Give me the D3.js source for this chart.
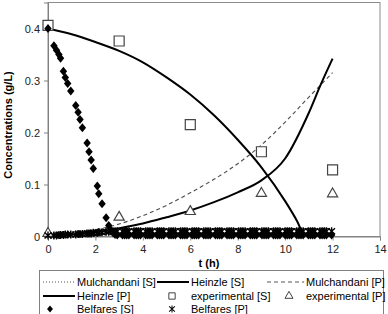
<!DOCTYPE html>
<html>
<head>
<meta charset="utf-8">
<script src="https://cdn.jsdelivr.net/npm/d3@7"></script>
<style>
  body { margin: 0; background: #fff; }
  svg { display: block; font-family: "Liberation Sans", Arial, sans-serif; }
</style>
</head>
<body>
<svg id="chart" width="388" height="314"></svg>
<script>
// model curves (t in h, concentration in g/L)
var heinzleS_t = [0, 1, 2, 3, 4, 5, 6, 7, 8, 9, 10, 10.5, 10.8, 11, 12];
var heinzleS_v = [0.400, 0.389, 0.374, 0.357, 0.335, 0.306, 0.273, 0.233, 0.186, 0.133, 0.068, 0.030, 0.004, 0.002, 0.002];
var heinzleP_t = [0, 1, 2, 3, 4, 5, 6, 7, 8, 9, 10, 11, 11.5, 12];
var heinzleP_v = [0.002, 0.004, 0.008, 0.016, 0.025, 0.037, 0.050, 0.066, 0.085, 0.108, 0.150, 0.238, 0.292, 0.342];
var mulchP_t = [0, 1, 2, 3, 4, 5, 6, 7, 8, 9, 10, 11, 12];
var mulchP_v = [0.002, 0.006, 0.013, 0.024, 0.040, 0.060, 0.084, 0.110, 0.140, 0.176, 0.220, 0.268, 0.315];
var mulchS_t = [0, 2, 4, 6, 8, 10, 12];
var mulchS_v = [0.004, 0.004, 0.004, 0.004, 0.004, 0.004, 0.004];

// experimental points
var expT = [0, 3, 6, 9, 12];
var expS = [0.406, 0.376, 0.215, 0.163, 0.128];
var expP = [0.006, 0.037, 0.048, 0.083, 0.082];

// Belfares model points
var belfT = [0, 0.25, 0.36, 0.46, 0.53, 0.65, 0.73, 0.83, 0.96, 1.17, 1.27, 1.35, 1.45, 1.65, 1.73, 1.82, 1.91, 2.08, 2.14, 2.28, 2.45, 2.56,
  2.65, 2.74, 2.83, 2.92, 3.14, 3.23, 3.32, 3.41, 3.63, 3.72, 3.81, 3.90, 4.12, 4.21, 4.30, 4.39,
  4.61, 4.70, 4.79, 4.88, 5.10, 5.19, 5.28, 5.37, 5.59, 5.68, 5.77, 5.86, 6.08, 6.17, 6.26, 6.35,
  6.57, 6.66, 6.75, 6.84, 7.06, 7.15, 7.24, 7.33, 7.55, 7.64, 7.73, 7.82, 8.04, 8.13, 8.22, 8.31,
  8.53, 8.62, 8.71, 8.80, 9.02, 9.11, 9.20, 9.29, 9.51, 9.60, 9.69, 9.78, 10.00, 10.09, 10.18, 10.27,
  10.49, 10.58, 10.67, 10.76, 10.98, 11.07, 11.16, 11.25, 11.47, 11.56, 11.65, 11.74, 11.96];
var belfS = [0.400, 0.367, 0.358, 0.350, 0.343, 0.318, 0.306, 0.294, 0.280, 0.252, 0.239, 0.225, 0.209, 0.180, 0.163, 0.147, 0.131, 0.097, 0.082, 0.063, 0.036, 0.021,
  0.012, 0.007, 0.004, 0.003, 0.003, 0.003, 0.003, 0.003, 0.003, 0.003, 0.003, 0.003, 0.003, 0.003, 0.003, 0.003,
  0.003, 0.003, 0.003, 0.003, 0.003, 0.003, 0.003, 0.003, 0.003, 0.003, 0.003, 0.003, 0.003, 0.003, 0.003, 0.003,
  0.003, 0.003, 0.003, 0.003, 0.003, 0.003, 0.003, 0.003, 0.003, 0.003, 0.003, 0.003, 0.003, 0.003, 0.003, 0.003,
  0.003, 0.003, 0.003, 0.003, 0.003, 0.003, 0.003, 0.003, 0.003, 0.003, 0.003, 0.003, 0.003, 0.003, 0.003, 0.003,
  0.003, 0.003, 0.003, 0.003, 0.003, 0.003, 0.003, 0.003, 0.003, 0.003, 0.003, 0.003, 0.003];
var belfP = [0.002, 0.002, 0.002, 0.003, 0.003, 0.003, 0.004, 0.004, 0.004, 0.004, 0.005, 0.005, 0.005, 0.006, 0.006, 0.006, 0.007, 0.007, 0.008, 0.008, 0.009, 0.009,
  0.010, 0.010, 0.010, 0.010, 0.010, 0.010, 0.010, 0.010, 0.010, 0.010, 0.010, 0.010, 0.010, 0.010, 0.010, 0.010,
  0.010, 0.010, 0.010, 0.010, 0.010, 0.010, 0.010, 0.010, 0.010, 0.010, 0.010, 0.010, 0.010, 0.010, 0.010, 0.010,
  0.010, 0.010, 0.010, 0.010, 0.010, 0.010, 0.010, 0.010, 0.010, 0.010, 0.010, 0.010, 0.010, 0.010, 0.010, 0.010,
  0.010, 0.010, 0.010, 0.010, 0.010, 0.010, 0.010, 0.010, 0.010, 0.010, 0.010, 0.010, 0.010, 0.010, 0.010, 0.010,
  0.010, 0.010, 0.010, 0.010, 0.010, 0.010, 0.010, 0.010, 0.010, 0.010, 0.010, 0.010, 0.010];

var xTicks = [0, 2, 4, 6, 8, 10, 12, 14];
var yTicks = [0, 0.1, 0.2, 0.3, 0.4];
var xTitle = "t (h)";
var yTitle = "Concentrations (g/L)";
var legendRows = [
  [{type: "dotted", label: "Mulchandani [S]"}, {type: "solid", label: "Heinzle [S]"}, {type: "dashed", label: "Mulchandani [P]"}],
  [{type: "solid", label: "Heinzle [P]"}, {type: "square", label: "experimental [S]"}, {type: "triangle", label: "experimental [P]"}],
  [{type: "diamond", label: "Belfares [S]"}, {type: "star", label: "Belfares [P]"}]
];

var margin = {top: 2.5, right: 8, bottom: 77.5, left: 48},
    width = 388 - margin.left - margin.right,
    height = 314 - margin.top - margin.bottom;

function pairs(ts, vs) {
  return ts.map((t, i) => ({t: t, v: vs[i]}));
}

document.addEventListener('DOMContentLoaded', function () {
  drawChart();
});

var diamondPath = "M0,-4.5L3.7,0L0,4.5L-3.7,0Z";
var starPath = "M0,-4V4M-3.4,-3L3.4,3M3.4,-3L-3.4,3";

function drawChart() {
  var svg = d3.select("#chart");

  var x = d3.scaleLinear().domain([0, 14]).range([0, width]);
  var y = d3.scaleLinear().domain([0, 0.45]).range([height, 0]);

  var g = svg.append("g")
    .attr("transform", "translate(" + margin.left + "," + margin.top + ")");

  // plot border
  g.append("rect")
    .attr("x", 0).attr("y", 0)
    .attr("width", width).attr("height", height)
    .attr("fill", "none")
    .attr("stroke", "#8c8c8c")
    .attr("stroke-width", 1);

  // axes
  var xAxis = g.append("g")
    .attr("transform", "translate(0," + height + ")")
    .call(d3.axisBottom(x).tickValues(xTicks).tickSize(4).tickPadding(5));
  var yAxis = g.append("g")
    .call(d3.axisLeft(y).tickValues(yTicks).tickSize(4).tickPadding(4)
      .tickFormat(d => d === 0 ? "0" : d3.format(".1f")(d)));

  [xAxis, yAxis].forEach(a => {
    a.select(".domain").attr("stroke", "#808080");
    a.selectAll(".tick line").attr("stroke", "#808080");
    a.selectAll(".tick text")
      .attr("fill", "#222")
      .style("font-size", "11px")
      .style("font-family", "'Liberation Sans', Arial, sans-serif");
  });

  // axis titles
  svg.append("text")
    .attr("x", margin.left + x(7) - 5)
    .attr("y", 267)
    .attr("text-anchor", "middle")
    .style("font-size", "11px")
    .style("font-weight", "bold")
    .text(xTitle);

  svg.append("text")
    .attr("transform", "translate(12,125) rotate(-90)")
    .attr("text-anchor", "middle")
    .style("font-size", "11px")
    .style("font-weight", "bold")
    .text(yTitle);

  var line = d3.line()
    .x(d => x(d.t))
    .y(d => y(d.v))
    .curve(d3.curveMonotoneX);

  // Mulchandani [S]
  g.append("path")
    .datum(pairs(mulchS_t, mulchS_v))
    .attr("d", line)
    .attr("fill", "none")
    .attr("stroke", "#555")
    .attr("stroke-width", 1)
    .attr("stroke-dasharray", "1,2");

  // Heinzle [S]
  g.append("path")
    .datum(pairs(heinzleS_t, heinzleS_v))
    .attr("d", line)
    .attr("fill", "none")
    .attr("stroke", "#000")
    .attr("stroke-width", 2);

  // Mulchandani [P]
  g.append("path")
    .datum(pairs(mulchP_t, mulchP_v))
    .attr("d", line)
    .attr("fill", "none")
    .attr("stroke", "#4d4d4d")
    .attr("stroke-width", 1.1)
    .attr("stroke-dasharray", "4,3");

  // Heinzle [P]
  g.append("path")
    .datum(pairs(heinzleP_t, heinzleP_v))
    .attr("d", line)
    .attr("fill", "none")
    .attr("stroke", "#000")
    .attr("stroke-width", 2);

  var squareSym = d3.symbol().type(d3.symbolSquare).size(100);
  var triSym = d3.symbol().type(d3.symbolTriangle).size(45);

  // experimental [S]
  g.append("g").selectAll("path")
    .data(pairs(expT, expS))
    .join("path")
    .attr("transform", d => "translate(" + x(d.t) + "," + y(d.v) + ")")
    .attr("d", squareSym)
    .attr("fill", "#fff")
    .attr("stroke", "#444")
    .attr("stroke-width", 1.2);

  // experimental [P]
  g.append("g").selectAll("path")
    .data(pairs(expT, expP))
    .join("path")
    .attr("transform", d => "translate(" + x(d.t) + "," + y(d.v) + ")")
    .attr("d", triSym)
    .attr("fill", "#fff")
    .attr("stroke", "#444")
    .attr("stroke-width", 1.2);

  // Belfares [S]
  g.append("g").selectAll("path")
    .data(pairs(belfT, belfS))
    .join("path")
    .attr("transform", d => "translate(" + x(d.t) + "," + y(d.v) + ")")
    .attr("d", diamondPath)
    .attr("fill", "#000");

  // Belfares [P]
  g.append("g").selectAll("path")
    .data(pairs(belfT, belfP))
    .join("path")
    .attr("transform", d => "translate(" + x(d.t) + "," + y(d.v) + ")")
    .attr("d", starPath)
    .attr("fill", "none")
    .attr("stroke", "#000")
    .attr("stroke-width", 1.4);

  drawLegend(svg);
}

function drawLegend(svg) {
  var lg = svg.append("g");
  lg.append("rect")
    .attr("x", 39.5).attr("y", 270.5)
    .attr("width", 344).attr("height", 50)
    .attr("fill", "#fff")
    .attr("stroke", "#808080");

  var colX = [43, 157, 267];
  var textX = [77, 191, 306];
  var rowY = [282, 296, 309];

  legendRows.forEach((row, r) => {
    row.forEach((item, c) => {
      var cy = rowY[r];
      var x0 = colX[c], x1 = textX[c] - 2;
      if (item.type === "dotted" || item.type === "solid" || item.type === "dashed") {
        lg.append("line")
          .attr("x1", x0).attr("x2", x1)
          .attr("y1", cy).attr("y2", cy)
          .attr("stroke", item.type === "solid" ? "#000" : "#555")
          .attr("stroke-width", item.type === "solid" ? 2 : 1)
          .attr("stroke-dasharray", item.type === "dotted" ? "1,2" : item.type === "dashed" ? "4,3" : null);
      } else if (item.type === "square") {
        lg.append("path").attr("transform", "translate(172," + cy + ")")
          .attr("d", d3.symbol().type(d3.symbolSquare).size(40))
          .attr("fill", "#fff").attr("stroke", "#444");
      } else if (item.type === "triangle") {
        lg.append("path").attr("transform", "translate(289," + cy + ")")
          .attr("d", d3.symbol().type(d3.symbolTriangle).size(28))
          .attr("fill", "#fff").attr("stroke", "#444");
      } else if (item.type === "diamond") {
        lg.append("path").attr("transform", "translate(50," + cy + ") scale(0.8)")
          .attr("d", diamondPath).attr("fill", "#000");
      } else if (item.type === "star") {
        lg.append("path").attr("transform", "translate(172," + cy + ") scale(0.85)")
          .attr("d", starPath).attr("fill", "none").attr("stroke", "#000").attr("stroke-width", 1.2);
      }
      lg.append("text")
        .attr("x", textX[c])
        .attr("y", cy + 4)
        .style("font-size", "11px")
        .attr("fill", "#000")
        .text(item.label);
    });
  });
}
</script>
</body>
</html>
